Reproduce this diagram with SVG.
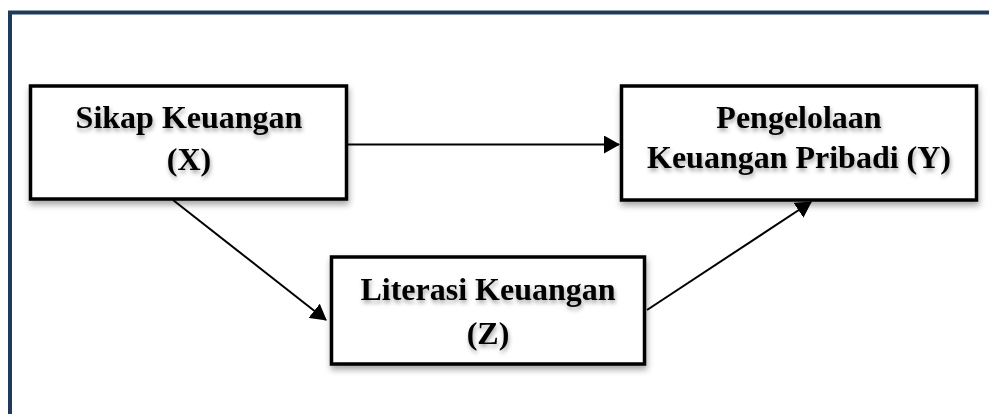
<svg xmlns="http://www.w3.org/2000/svg" width="989" height="414" viewBox="0 0 989 414">
  <style>
    .box { fill: #ffffff; stroke: #000000; stroke-width: 3.5; }
    .lbl { font-family: "Liberation Serif", "Times New Roman", serif; font-weight: bold; font-size: 32px; fill: #000000; text-anchor: middle; }
    .conn { stroke: #000000; stroke-width: 2; fill: none; }
  </style>
  <defs>
    <filter id="shadow" x="-10%" y="-10%" width="125%" height="130%">
      <feDropShadow dx="1" dy="4" stdDeviation="3" flood-color="#000000" flood-opacity="0.35"/>
    </filter>
    <filter id="tshadow" x="-10%" y="-20%" width="120%" height="150%">
      <feDropShadow dx="1" dy="3" stdDeviation="2" flood-color="#000000" flood-opacity="0.35"/>
    </filter>
    <marker id="arrow" viewBox="0 0 16 18" refX="15" refY="9" markerWidth="16" markerHeight="18" markerUnits="userSpaceOnUse" orient="auto">
      <path d="M0,0 L16,9 L0,18 Z" fill="#000000"/>
    </marker>
  </defs>
  <rect x="0" y="0" width="989" height="414" fill="#ffffff"/>
  <rect x="10" y="12.5" width="1000" height="430" fill="none" stroke="#1f3a5a" stroke-width="4"/>

  <g id="connectors">
    <line class="conn" x1="348" y1="144.5" x2="619" y2="144.5" marker-end="url(#arrow)"/>
    <line class="conn" x1="173" y1="200" x2="326" y2="320" marker-end="url(#arrow)"/>
    <line class="conn" x1="647" y1="310" x2="811" y2="202" marker-end="url(#arrow)"/>
  </g>

  <g id="node-x">
    <rect class="box" x="30.5" y="86" width="316" height="113" filter="url(#shadow)"/>
    <text class="lbl" x="189" y="128" filter="url(#tshadow)">Sikap Keuangan</text>
    <text class="lbl" x="189" y="170" filter="url(#tshadow)">(X)</text>
  </g>

  <g id="node-y">
    <rect class="box" x="621.5" y="86" width="355" height="114" filter="url(#shadow)"/>
    <text class="lbl" x="799" y="128" filter="url(#tshadow)">Pengelolaan</text>
    <text class="lbl" x="799" y="168" filter="url(#tshadow)">Keuangan Pribadi (Y)</text>
  </g>

  <g id="node-z">
    <rect class="box" x="331.5" y="257" width="313" height="107" filter="url(#shadow)"/>
    <text class="lbl" x="488" y="300" filter="url(#tshadow)">Literasi Keuangan</text>
    <text class="lbl" x="488" y="344" filter="url(#tshadow)">(Z)</text>
  </g>
</svg>
